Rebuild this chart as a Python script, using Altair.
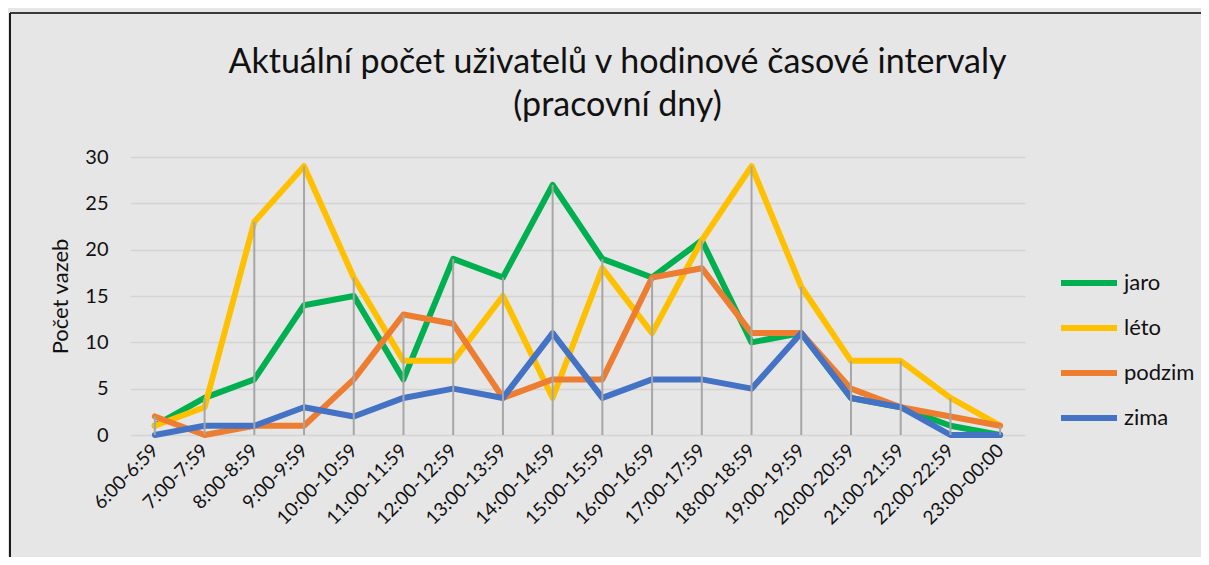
import altair as alt
import pandas as pd

categories = ["6:00-6:59", "7:00-7:59", "8:00-8:59", "9:00-9:59", "10:00-10:59",
              "11:00-11:59", "12:00-12:59", "13:00-13:59", "14:00-14:59", "15:00-15:59",
              "16:00-16:59", "17:00-17:59", "18:00-18:59", "19:00-19:59", "20:00-20:59",
              "21:00-21:59", "22:00-22:59", "23:00-00:00"]
jaro = [1, 4, 6, 14, 15, 6, 19, 17, 27, 19, 17, 21, 10, 11, 4, 3, 1, 0]
leto = [1, 3, 23, 29, 17, 8, 8, 15, 4, 18, 11, 21, 29, 16, 8, 8, 4, 1]
podzim = [2, 0, 1, 1, 6, 13, 12, 4, 6, 6, 17, 18, 11, 11, 5, 3, 2, 1]
zima = [0, 1, 1, 3, 2, 4, 5, 4, 11, 4, 6, 6, 5, 11, 4, 3, 0, 0]
series_names = ["jaro", "léto", "podzim", "zima"]
series_colors = ["#00B050", "#FFC000", "#ED7D31", "#4472C4"]
y_ticks = [0, 5, 10, 15, 20, 25, 30]

rows = []
for name, vals in zip(series_names, [jaro, leto, podzim, zima]):
    for c, v in zip(categories, vals):
        rows.append({"interval": c, "sezona": name, "pocet": v})
df = pd.DataFrame(rows)
drop = df.groupby("interval", sort=False)["pocet"].max().reset_index()

FONT = "Lato"
TXT = "#111111"

x_enc = alt.X("interval:N", sort=categories,
              scale=alt.Scale(type="point", domain=categories, padding=0.5),
              axis=alt.Axis(title=None, labelAngle=-45, labelAlign="right", labelBaseline="middle",
                            labelFontSize=19, labelPadding=12, domain=False, ticks=False,
                            grid=False, labelColor=TXT, labelFont=FONT))
y_scale = alt.Scale(domain=[0, 30], nice=False, zero=True)

one = pd.DataFrame({"d": [0]})
frame_top = alt.Chart(one).mark_rule(color="#3a3a3a", strokeWidth=2).encode(
    x=alt.value(-120), x2=alt.value(1100), y=alt.value(-144))
frame_left = alt.Chart(one).mark_rule(color="#1a1a1a", strokeWidth=2).encode(
    x=alt.value(-120), y=alt.value(-144), y2=alt.value(500))

lines = alt.Chart(df).mark_line(strokeWidth=6, strokeJoin="round", strokeCap="round").encode(
    x=x_enc,
    y=alt.Y("pocet:Q", scale=y_scale,
            axis=alt.Axis(values=y_ticks, title="Počet vazeb", grid=True, gridColor="#d4d4d4",
                          gridWidth=1.5, domain=False, ticks=False, labelFontSize=20,
                          labelPadding=22, labelColor=TXT, labelFont=FONT,
                          titleFont=FONT, titleFontSize=22, titleFontWeight="normal",
                          titleColor=TXT, titlePadding=12)),
    color=alt.Color("sezona:N", sort=series_names,
                    scale=alt.Scale(domain=series_names, range=series_colors),
                    legend=alt.Legend(title=None, orient="none", legendX=928, legendY=95,
                                      symbolType="stroke", symbolStrokeWidth=6,
                                      symbolSize=3136, labelFontSize=22, labelFont=FONT,
                                      labelColor=TXT, labelOffset=4, rowPadding=2)),
    detail="sezona:N",
)

drops = alt.Chart(drop).mark_rule(color="#a6a6a6", strokeWidth=2).encode(
    x=alt.X("interval:N", sort=categories),
    y=alt.Y("pocet:Q", scale=y_scale),
    y2=alt.datum(0),
)

chart = alt.layer(frame_top, frame_left, lines, drops).properties(
    width=895, height=278,
    autosize=alt.AutoSizeParams(type="none"),
    padding={"left": 122, "top": 149, "right": 176, "bottom": 122},
    background="#e7e6e6",
    title=alt.TitleParams(
        text=["Aktuální počet uživatelů v hodinové časové intervaly", "(pracovní dny)"],
        fontSize=34, font=FONT, fontWeight="normal", color=TXT, anchor="middle",
        frame="group", dx=40, lineHeight=43, offset=-111),
).configure_view(stroke=None)

chart.save("out.html", embed_options={"renderer": "svg", "actions": False})
